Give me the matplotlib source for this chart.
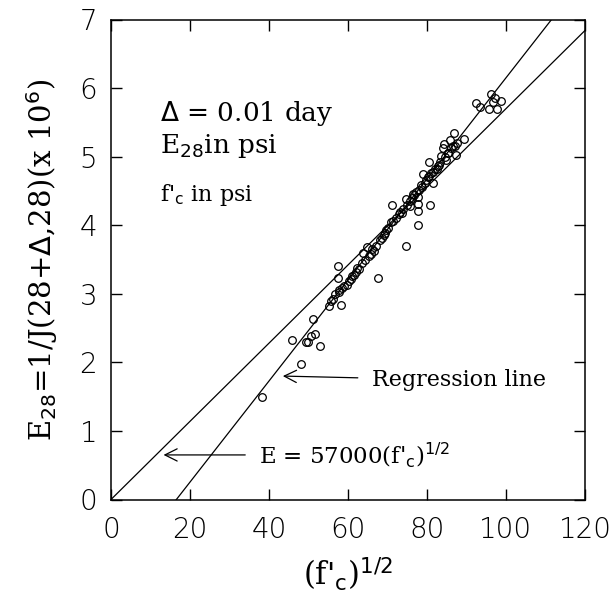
import matplotlib
matplotlib.use("Agg")
import matplotlib.pyplot as plt
import numpy as np

# Measured data: sqrt(f'c) vs E28 (x 10^6 psi)
x_data = [38.2, 48.1, 45.9, 49.4, 49.9, 50.6, 51.1, 51.7, 52.8, 55.3, 56.2,
          57.4, 57.4, 57.8, 58.3, 57.6, 59.8, 60.7, 61.6, 62.7, 63.9, 64.9,
          65.4, 67.7, 66.5, 68.6, 69.6, 71.1, 70.9, 73.6, 74.8, 74.6, 75.6,
          76.5, 77.8, 77.8, 77.8, 77.8, 78.5, 79.0, 80.8, 80.5, 80.5, 81.5,
          81.5, 82.5, 83.0, 83.5, 84.0, 84.4, 84.9, 85.4, 85.9, 86.9, 87.2,
          87.4, 87.7, 89.4, 92.3, 93.3, 96.1, 95.8, 96.8, 97.3, 97.8, 98.8,
          59.0, 61.0, 62.2, 63.5, 64.2, 65.8, 66.2, 67.0, 68.0, 69.0, 69.4,
          70.2, 71.5, 72.2, 72.8, 73.2, 74.0, 75.0, 75.8, 76.2, 76.8, 77.2,
          78.0, 78.8, 79.4, 79.8, 80.2, 81.0, 82.0, 82.8, 83.2, 84.6, 85.2,
          86.2, 86.5, 55.8, 56.8, 58.6, 60.2, 62.0]
y_data = [1.49, 1.97, 2.32, 2.29, 2.29, 2.39, 2.63, 2.42, 2.24, 2.82, 2.92,
          3.41, 3.23, 3.02, 2.83, 3.06, 3.13, 3.22, 3.28, 3.36, 3.59, 3.68,
          3.55, 3.23, 3.62, 3.81, 3.93, 4.30, 4.05, 4.18, 3.70, 4.38, 4.28,
          4.45, 4.01, 4.21, 4.31, 4.41, 4.58, 4.75, 4.30, 4.92, 4.72, 4.61,
          4.78, 4.82, 4.88, 5.01, 5.12, 5.18, 4.95, 5.05, 5.24, 5.35, 5.15,
          5.02, 5.20, 5.26, 5.78, 5.72, 5.92, 5.69, 5.80, 5.85, 5.69, 5.81,
          3.12, 3.26, 3.38, 3.45, 3.50, 3.58, 3.66, 3.70, 3.78, 3.86, 3.88,
          3.96, 4.06, 4.10, 4.16, 4.20, 4.24, 4.30, 4.36, 4.40, 4.44, 4.48,
          4.52, 4.56, 4.62, 4.66, 4.70, 4.76, 4.82, 4.86, 4.92, 5.00, 5.06,
          5.12, 5.16, 2.90, 3.00, 3.08, 3.18, 3.32]

# Lines: ACI formula and regression line
aci_coef = 0.057          # E = 57000 (f'c)^1/2, in 10^6 psi
reg_slope = 0.0737
reg_intercept = -1.22

x_ticks = [0, 20, 40, 60, 80, 100, 120]
y_ticks = [0, 1, 2, 3, 4, 5, 6, 7]

fig = plt.figure(figsize=(6.11, 6.06), dpi=100)
ax = fig.add_axes([111/611, 1 - 499.5/606, 474/611, 480/606])

serif = ["DejaVu Serif"]

xl = np.linspace(0, 120, 200)
ax.plot(xl, aci_coef * xl, color="black", lw=0.9)
ax.plot(xl, reg_slope * xl + reg_intercept, color="black", lw=0.9)
ax.plot(x_data, y_data, linestyle="none", marker="o", markersize=5.5,
        markerfacecolor="none", markeredgecolor="black", markeredgewidth=0.9)

ax.set_xlim(0, 120)
ax.set_ylim(0, 7)
ax.set_xticks(x_ticks)
ax.set_yticks(y_ticks)
ax.tick_params(direction="in", length=8, width=1.0, top=True, right=True,
               labelsize=20)
ax.tick_params(axis="x", pad=12)
ax.tick_params(axis="y", pad=10)
for lab in ax.get_xticklabels() + ax.get_yticklabels():
    lab.set_family("DejaVu Sans")
    lab.set_fontweight("light")
    lab.set_color("black")
for s in ax.spines.values():
    s.set_linewidth(1.1)

ax.set_xlabel(r"(f$'_{\rm c}$)$^{1/2}$", family=serif, fontsize=22, labelpad=8)
ax.set_ylabel(r"E$_{28}$=1/J(28+$\Delta$,28)(x 10$^6$)", family=serif,
              fontsize=21, labelpad=14)

ax.text(12.3, 5.63, r"$\Delta$ = 0.01 day", family=serif, fontsize=19,
        va="center", ha="left")
ax.text(12.3, 5.16, r"E$_{28}$in psi", family=serif, fontsize=19,
        va="center", ha="left")
ax.text(12.3, 4.44, r"f$'_{\rm c}$ in psi", family=serif, fontsize=16,
        va="center", ha="left")

ax.annotate("Regression line", xy=(43.5, 1.80), xytext=(66.0, 1.74),
            family=serif, fontsize=16, va="center", ha="left",
            arrowprops=dict(arrowstyle="->", color="black", lw=0.9,
                            shrinkA=8, shrinkB=0, mutation_scale=22))
ax.annotate(r"E = 57000(f$'_{\rm c}$)$^{1/2}$", xy=(13.3, 0.65),
            xytext=(37.5, 0.65), family=serif, fontsize=16.5, va="center",
            ha="left",
            arrowprops=dict(arrowstyle="->", color="black", lw=0.9,
                            shrinkA=8, shrinkB=0, mutation_scale=22))

fig.savefig("out.png", dpi=100)
